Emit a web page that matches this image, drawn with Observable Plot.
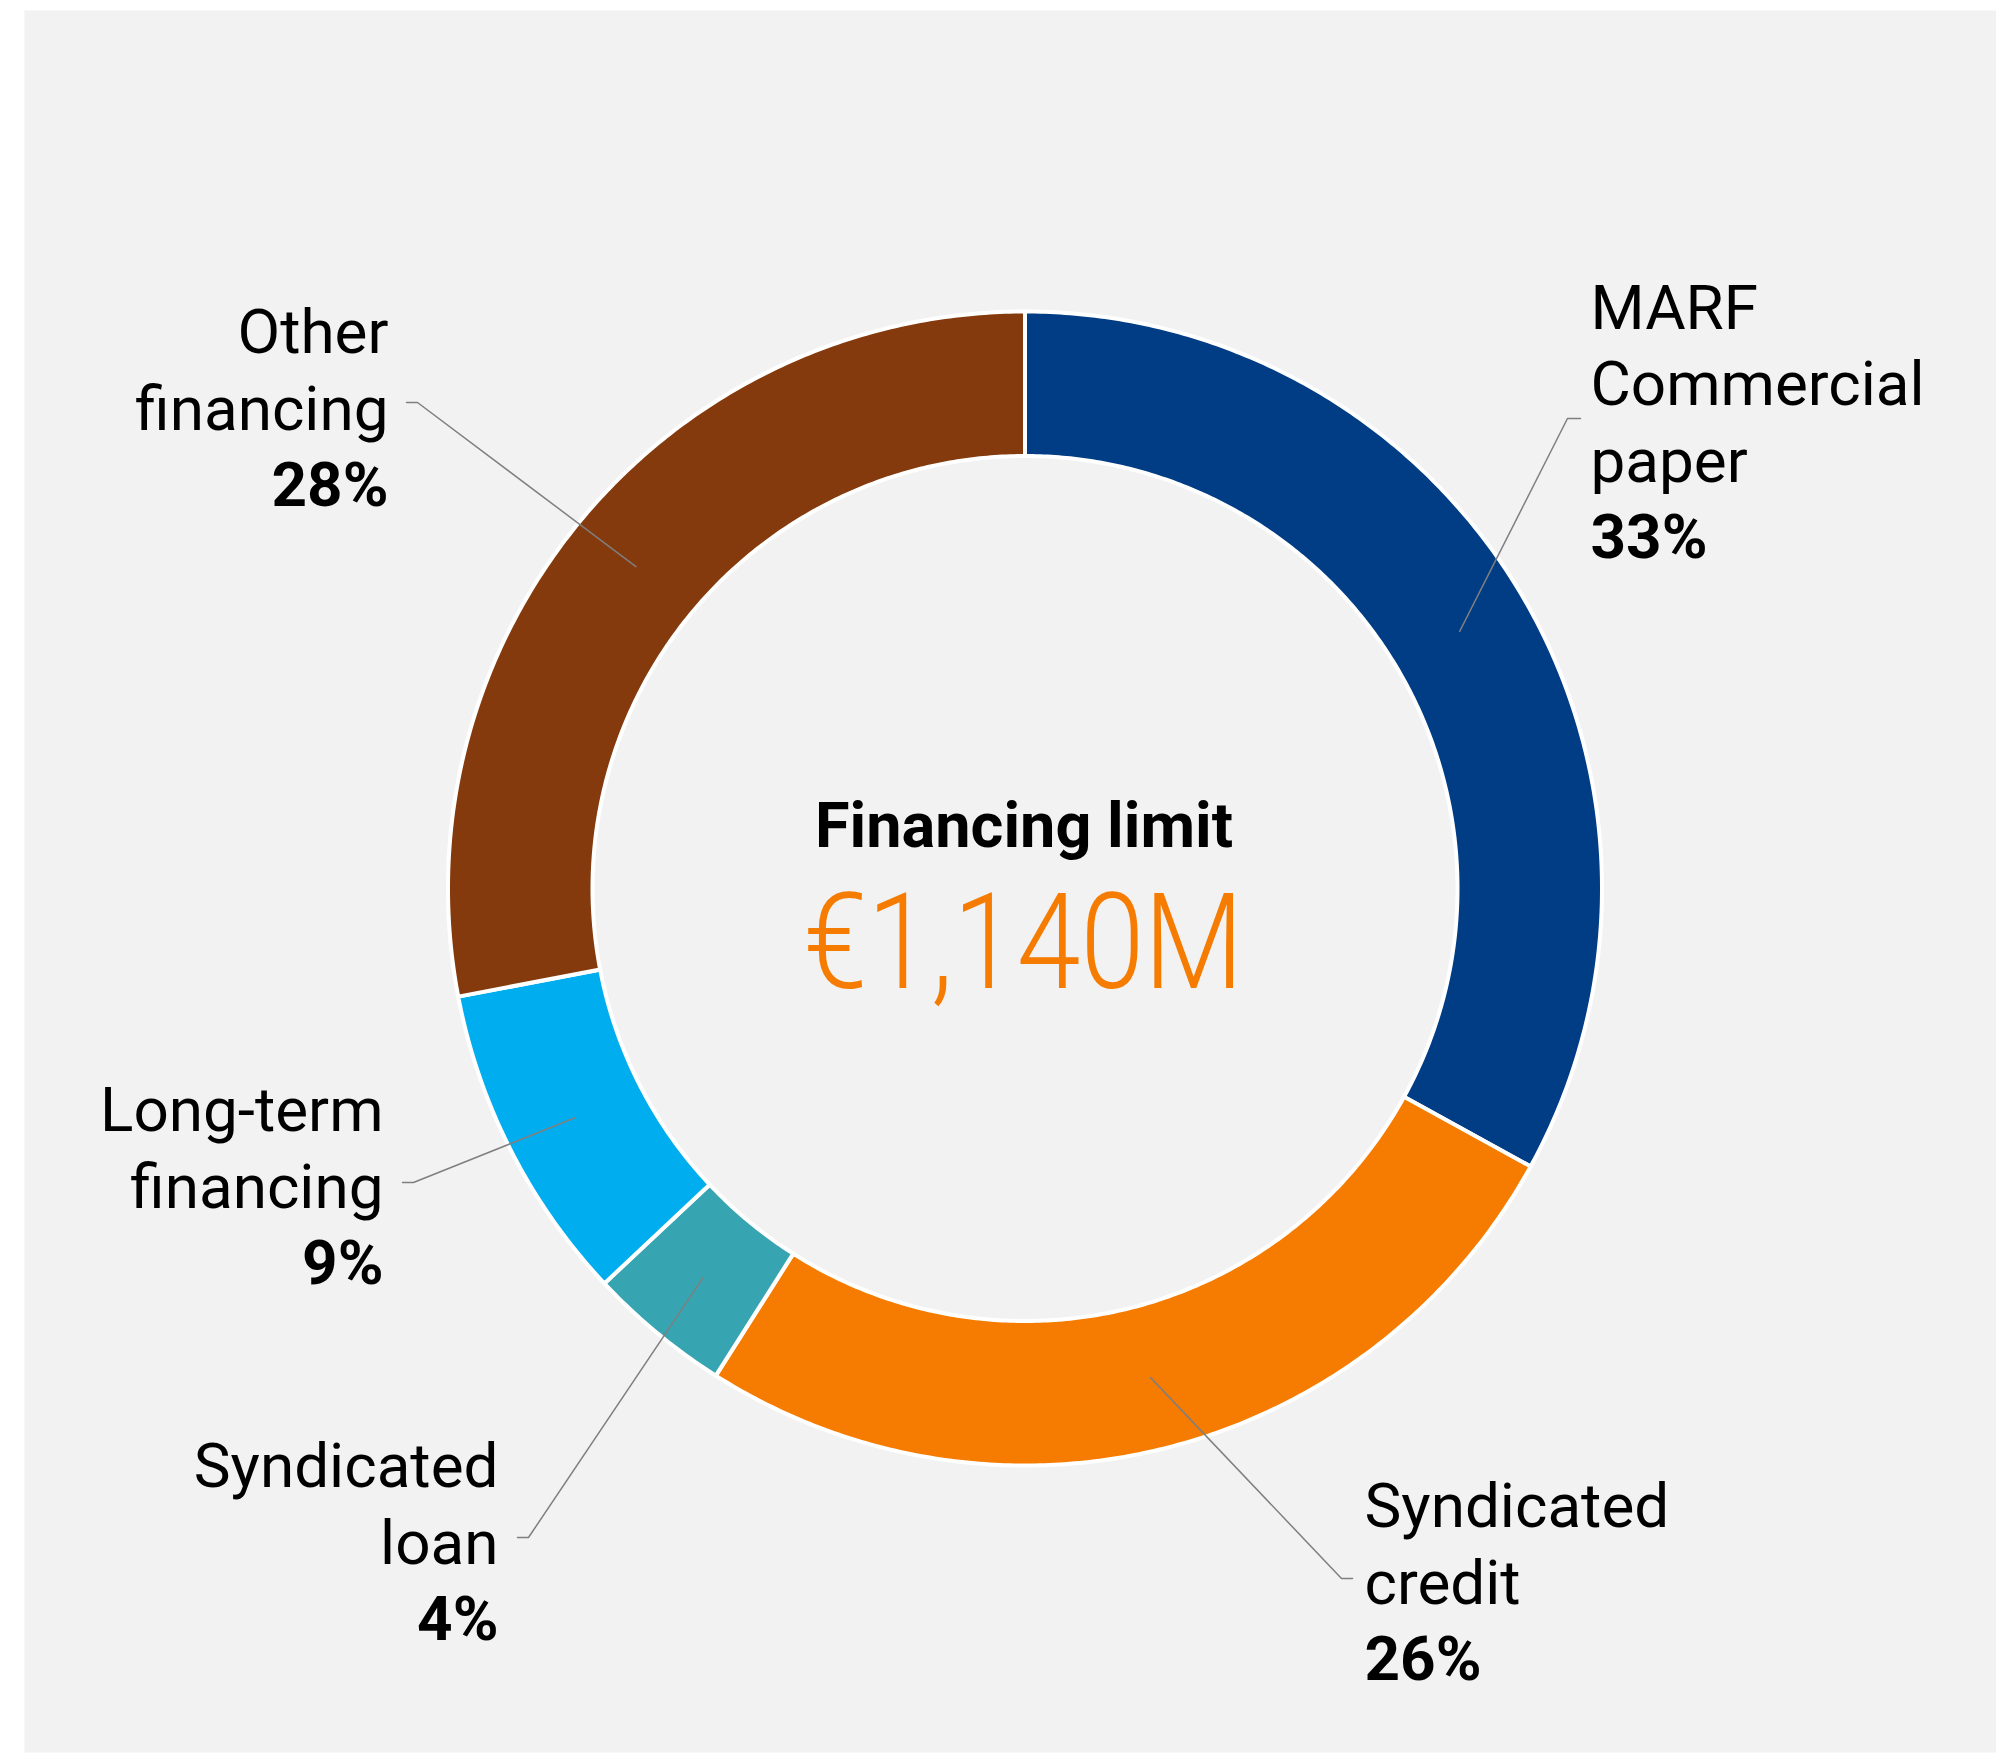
<!DOCTYPE html>
<html><head><meta charset="utf-8">
<script src="https://cdn.jsdelivr.net/npm/d3@7"></script>
<script src="https://cdn.jsdelivr.net/npm/@observablehq/plot@0.6"></script>
<style>body{margin:0;background:#fff}</style>
</head><body><div id="chart"></div>
<script>
// ---- data ----
const categories = ["MARF Commercial paper", "Syndicated credit", "Syndicated loan", "Long-term financing", "Other financing"];
const labelLines = [["MARF", "Commercial", "paper"], ["Syndicated", "credit"], ["Syndicated", "loan"], ["Long-term", "financing"], ["Other", "financing"]];
const shares = [33, 26, 4, 9, 28];
const centerTitle = "Financing limit";
const centerValue = "€1,140M";
const colors = ["#003D84", "#F57C00", "#36A4B1", "#00AEEF", "#843A0C"];

// ---- layout ----
const W = 1996, H = 1761;
const panel = {left: 24, top: 10, right: 1996, bottom: 1752};
const cx = 1024.5, cy = 888;
const rOuter = 577, rInner = 432.5, rLeader = 505;
const fontSize = 62, lineStep = 76.5;
const labelLayout = [
  {elbow: [1567, 418], end: [1580, 418], anchor: "start", x: 1590, lastNameBaseline: 481},
  {elbow: [1341, 1578], end: [1352, 1578], anchor: "start", x: 1364, lastNameBaseline: 1603},
  {elbow: [528, 1537], end: [517, 1537], anchor: "end", x: 498, lastNameBaseline: 1563},
  {elbow: [413, 1182], end: [402, 1182], anchor: "end", x: 383, lastNameBaseline: 1207},
  {elbow: [417, 402], end: [406, 402], anchor: "end", x: 388, lastNameBaseline: 429}
];

// ---- derived geometry ----
const total = d3.sum(shares);
let acc = 0;
const slices = categories.map((c, i) => {
  const a0 = acc / total * 2 * Math.PI;
  acc += shares[i];
  const a1 = acc / total * 2 * Math.PI;
  return {c, a0, a1, mid: (a0 + a1) / 2};
});
const ringPts = [];
slices.forEach(s => {
  const n = Math.max(2, Math.ceil((s.a1 - s.a0) / (Math.PI / 360)));
  const ring = [];
  for (let k = 0; k <= n; k++) { const a = s.a0 + (s.a1 - s.a0) * k / n; ring.push([rOuter * Math.sin(a), -rOuter * Math.cos(a)]); }
  for (let k = n; k >= 0; k--) { const a = s.a0 + (s.a1 - s.a0) * k / n; ring.push([rInner * Math.sin(a), -rInner * Math.cos(a)]); }
  ring.push(ring[0]);
  ring.forEach(([x, y]) => ringPts.push({c: s.c, x, y}));
});
const leaderPts = [];
slices.forEach((s, i) => {
  const L = labelLayout[i];
  leaderPts.push({c: s.c, x: rLeader * Math.sin(s.mid), y: -rLeader * Math.cos(s.mid)});
  leaderPts.push({c: s.c, x: L.elbow[0] - cx, y: L.elbow[1] - cy});
  leaderPts.push({c: s.c, x: L.end[0] - cx, y: L.end[1] - cy});
});
const labels = categories.map((c, i) => ({
  c,
  name: labelLines[i].join("\n"),
  pct: shares[i] + "%",
  anchor: labelLayout[i].anchor,
  x: labelLayout[i].x - cx,
  yName: labelLayout[i].lastNameBaseline - cy,
  yPct: labelLayout[i].lastNameBaseline + lineStep - cy
}));
const startLabels = labels.filter(d => d.anchor === "start");
const endLabels = labels.filter(d => d.anchor === "end");

const chart = Plot.plot({
  width: W, height: H,
  marginLeft: panel.left, marginTop: panel.top, marginRight: W - panel.right, marginBottom: H - panel.bottom,
  style: {fontFamily: "Roboto", background: "#ffffff"},
  x: {domain: [panel.left - cx, panel.right - cx], range: [panel.left, panel.right], axis: null},
  y: {domain: [panel.top - cy, panel.bottom - cy], range: [panel.top, panel.bottom], axis: null},
  color: {domain: categories, range: colors},
  marks: [
    Plot.frame({fill: "#F2F2F2", stroke: "none"}),
    Plot.line(ringPts, {x: "x", y: "y", z: "c", fill: "c", stroke: "#ffffff", strokeWidth: 4, strokeLinejoin: "miter", strokeMiterlimit: 4, curve: "linear"}),
    Plot.line(leaderPts, {x: "x", y: "y", z: "c", stroke: "#7f7f7f", strokeWidth: 1.5, strokeLinejoin: "miter", curve: "linear"}),
    Plot.text(startLabels, {x: "x", y: "yName", text: "name", textAnchor: "start", lineAnchor: "bottom", lineHeight: lineStep / fontSize, fontSize, fontWeight: 400, fill: "#000"}),
    Plot.text(endLabels, {x: "x", y: "yName", text: "name", textAnchor: "end", lineAnchor: "bottom", lineHeight: lineStep / fontSize, fontSize, fontWeight: 400, fill: "#000"}),
    Plot.text(startLabels, {x: "x", y: "yPct", text: "pct", textAnchor: "start", lineAnchor: "bottom", fontSize, fontWeight: 700, fill: "#000"}),
    Plot.text(endLabels, {x: "x", y: "yPct", text: "pct", textAnchor: "end", lineAnchor: "bottom", fontSize, fontWeight: 700, fill: "#000"}),
    Plot.text([centerTitle], {x: () => -1, y: () => 846.7 - cy, text: d => d, textAnchor: "middle", lineAnchor: "bottom", fontSize: 63, fontWeight: 700, fill: "#000"}),
    Plot.text([centerValue], {x: () => -1.5, y: () => 987 - cy, text: d => d, textAnchor: "middle", lineAnchor: "bottom", fontSize: 134, fontWeight: 300, fill: "#F57C00"})
  ]
});
d3.select(chart).selectAll("text").filter(function () { return this.textContent === centerValue; })
  .attr("textLength", 440).attr("lengthAdjust", "spacingAndGlyphs");
document.getElementById("chart").appendChild(chart);
</script>
</body></html>
